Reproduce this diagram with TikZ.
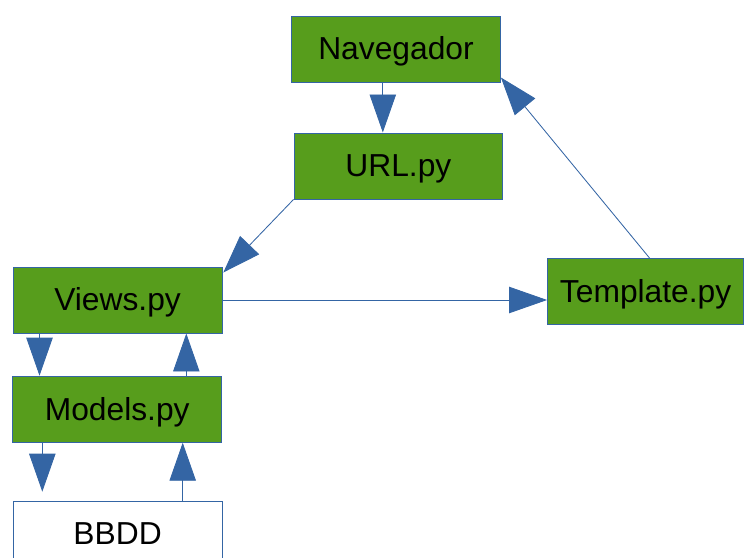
\documentclass[tikz,border=0pt]{standalone}
\usepackage{fontspec}
\setmainfont{Liberation Sans}
\usetikzlibrary{calc}
\usetikzlibrary{arrows.meta}
\definecolor{leafgreen}{RGB}{87, 157, 28}
\definecolor{flowblue}{RGB}{52, 101, 164}

\tikzset{
  caja/.style={draw=flowblue, line width=0.7pt, fill=leafgreen, minimum width=5.22cm,
               minimum height=1.65cm, inner sep=0pt, text height=0.74cm, text depth=0.20cm,
               font=\fontsize{22.6}{26}\selectfont},
  flecha/.style={draw=flowblue, line width=0.6pt, -{Triangle[length=0.95cm, width=0.66cm]}}
}

\begin{document}
\begin{tikzpicture}
            \useasboundingbox                       (0.00, 0.00) rectangle (18.60,-13.95);
            \clip                                   (0.00, 0.00) rectangle (18.60,-13.95);
            \node[caja]                      (nav)    at ( 9.90, -1.23) {Navegador};
            \node[caja]                      (url)    at ( 9.96, -4.15) {URL.py};
            \node[caja]                      (views)  at ( 2.94, -7.50) {Views.py};
            \node[caja, minimum width=4.90cm](tmpl)   at (16.14, -7.29) {Template.py};
            \node[caja]                      (models) at ( 2.93,-10.23) {Models.py};
            \node[caja, fill=white]          (bbdd)   at ( 2.94,-13.35) {BBDD};
            % flujo de la peticion
            \draw[flecha] ($(nav.south)+(-0.33,0)$) coordinate (a) -- (a |- url.north);
            \draw[flecha] (url.south west) -- ($(views.north east)+(0.02,-0.15)$);
            \draw[flecha] (views.east) -- (views.east -| tmpl.west);
            \draw[flecha] ($(tmpl.north)+(0.10,0)$) -- ($(nav.south east)+(0.00,0.13)$);
            % vistas, modelos y base de datos
            \draw[flecha] ($(views.south west)+(0.67,0)$) coordinate (b) -- (b |- models.north);
            \draw[flecha] ($(models.north west)+(4.35,0)$) coordinate (c) -- (c |- views.south);
            \draw[flecha, shorten >=0.22cm] ($(models.south west)+(0.75,0)$) coordinate (d) -- (d |- bbdd.north);
            \draw[flecha] ($(bbdd.north west)+(4.25,0)$) coordinate (e) -- (e |- models.south);
        \end{tikzpicture}
\end{document}
